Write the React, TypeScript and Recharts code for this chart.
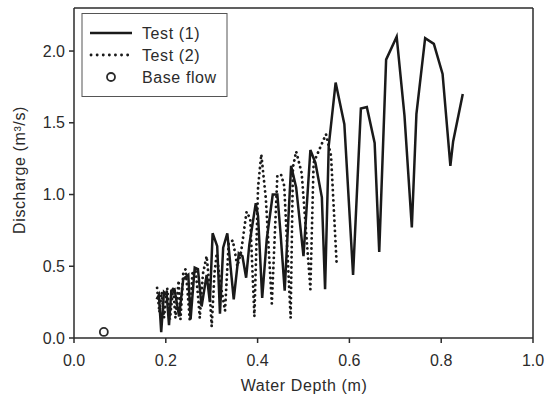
import React from "react";
import {
  ComposedChart,
  Line,
  Scatter,
  XAxis,
  YAxis,
  ReferenceLine,
} from "recharts";

// Test (1) – solid line
const test1Depth = [
  0.18, 0.185, 0.19, 0.196, 0.202, 0.207, 0.212, 0.219, 0.229, 0.238, 0.249,
  0.254, 0.263, 0.27, 0.278, 0.289, 0.296, 0.302, 0.312, 0.318, 0.325, 0.334,
  0.348, 0.359, 0.367, 0.375, 0.382, 0.396, 0.401, 0.41, 0.42, 0.433, 0.443,
  0.45, 0.459, 0.473, 0.484, 0.5, 0.515, 0.526, 0.54, 0.547, 0.555, 0.57,
  0.589, 0.608, 0.625, 0.638, 0.655, 0.665, 0.68, 0.703, 0.72, 0.736, 0.746,
  0.765, 0.784, 0.803, 0.82, 0.826, 0.847,
];
const test1Flow = [
  0.27, 0.3, 0.04, 0.32, 0.3, 0.09, 0.33, 0.34, 0.15, 0.41, 0.44, 0.13, 0.49,
  0.48, 0.22, 0.44, 0.25, 0.73, 0.64, 0.17, 0.63, 0.73, 0.27, 0.59, 0.57, 0.42,
  0.65, 0.94, 0.85, 0.28, 0.69, 1.0, 1.0, 0.73, 0.33, 1.2, 1.05, 0.57, 1.31,
  1.22, 0.98, 0.34, 1.34, 1.78, 1.49, 0.44, 1.6, 1.61, 1.36, 0.6, 1.94, 2.1,
  1.55, 0.77, 1.56, 2.09, 2.05, 1.84, 1.2, 1.37, 1.7,
];

// Test (2) – dotted line
const test2Depth = [
  0.181, 0.186, 0.191, 0.196, 0.203, 0.209, 0.216, 0.221, 0.228, 0.232, 0.238,
  0.243, 0.248, 0.252, 0.258, 0.265, 0.27, 0.274, 0.281, 0.289, 0.294, 0.3,
  0.306, 0.311, 0.318, 0.329, 0.337, 0.346, 0.356, 0.364, 0.376, 0.384, 0.393,
  0.401, 0.408, 0.418, 0.431, 0.443, 0.451, 0.458, 0.472, 0.477, 0.484, 0.496,
  0.515, 0.522, 0.538, 0.549, 0.56, 0.572,
];
const test2Flow = [
  0.35, 0.18, 0.32, 0.14, 0.35, 0.13, 0.35, 0.14, 0.4, 0.13, 0.45, 0.48, 0.3,
  0.13, 0.45, 0.47, 0.3, 0.14, 0.45, 0.57, 0.4, 0.08, 0.45, 0.59, 0.4, 0.19,
  0.66, 0.68, 0.5, 0.6, 0.88, 0.83, 0.15, 1.05, 1.28, 0.97, 0.24, 1.13, 1.14,
  1.06, 0.14, 1.19, 1.3, 1.15, 0.34, 1.22, 1.34, 1.42, 1.27, 0.53,
];

// Base flow point
const baseDepth = [0.065];
const baseFlow = [0.042];

const xTicks = [0, 0.2, 0.4, 0.6, 0.8, 1.0];
const yTicks = [0, 0.5, 1.0, 1.5, 2.0];

const test1 = test1Depth.map((d, i) => ({ d, q: test1Flow[i] }));
const test2 = test2Depth.map((d, i) => ({ d, q: test2Flow[i] }));
const base = baseDepth.map((d, i) => ({ d, q: baseFlow[i] }));

const font = "'Liberation Sans', Arial, sans-serif";
const ink = "#2b2b2b";
const tickStyle = { fontSize: 16, fill: ink, fontFamily: font };

const HollowCircle = (props: any) => (
  <circle cx={props.cx} cy={props.cy} r={4} fill="none" stroke={ink} strokeWidth={1.8} />
);

export default function App() {
  return (
    <div style={{ position: "absolute", left: 0, top: 0, width: 545, height: 395, background: "#fff" }}>
      <ComposedChart
        width={545}
        height={395}
        margin={{ top: 8, right: 12, left: 0, bottom: 0 }}
      >
        <XAxis
          type="number"
          dataKey="d"
          domain={[0, 1]}
          ticks={xTicks}
          tickFormatter={(v: number) => v.toFixed(1)}
          tick={tickStyle}
          tickSize={5}
          tickMargin={12}
          height={57}
          stroke={ink}
          strokeWidth={1.5}
          allowDataOverflow
        />
        <YAxis
          type="number"
          dataKey="q"
          domain={[0, 2.3]}
          ticks={yTicks}
          tickFormatter={(v: number) => v.toFixed(1)}
          tick={tickStyle}
          tickSize={5}
          tickMargin={4}
          width={74}
          stroke={ink}
          strokeWidth={1.5}
          allowDataOverflow
        />
        <ReferenceLine y={2.3} stroke={ink} strokeWidth={1.5} />
        <ReferenceLine x={1} stroke={ink} strokeWidth={1.5} />
        <Line
          data={test1}
          dataKey="q"
          type="linear"
          stroke="#1a1a1a"
          strokeWidth={2.5}
          dot={false}
          isAnimationActive={false}
        />
        <Line
          data={test2}
          dataKey="q"
          type="linear"
          stroke="#1a1a1a"
          strokeWidth={2.8}
          strokeDasharray="0.1 5"
          strokeLinecap="round"
          dot={false}
          isAnimationActive={false}
        />
        <Scatter data={base} dataKey="q" shape={HollowCircle} isAnimationActive={false} />
      </ComposedChart>

      <svg
        width={545}
        height={395}
        style={{ position: "absolute", left: 0, top: 0, pointerEvents: "none" }}
      >
        {/* legend */}
        <rect x={82} y={13.5} width={145} height={83} fill="#fff" stroke="#555" strokeWidth={1} />
        <line x1={90} y1={33} x2={132} y2={33} stroke="#1a1a1a" strokeWidth={2.5} />
        <line
          x1={91}
          y1={55}
          x2={132}
          y2={55}
          stroke="#1a1a1a"
          strokeWidth={2.8}
          strokeDasharray="0.1 6"
          strokeLinecap="round"
        />
        <circle cx={111} cy={77} r={4} fill="none" stroke={ink} strokeWidth={1.8} />
        <g fontFamily={font} fontSize={16} fill={ink} letterSpacing={0.6}>
          <text x={142} y={39}>Test (1)</text>
          <text x={142} y={61}>Test (2)</text>
          <text x={142} y={83}>Base flow</text>
        </g>
        {/* axis titles */}
        <text
          x={304}
          y={391}
          textAnchor="middle"
          fontFamily={font}
          fontSize={16}
          fill={ink}
          letterSpacing={0.6}
        >
          Water Depth (m)
        </text>
        <text
          transform="translate(25,170) rotate(-90)"
          textAnchor="middle"
          fontFamily={font}
          fontSize={16}
          fill={ink}
          letterSpacing={0.6}
        >
          Discharge (m³/s)
        </text>
      </svg>
    </div>
  );
}
